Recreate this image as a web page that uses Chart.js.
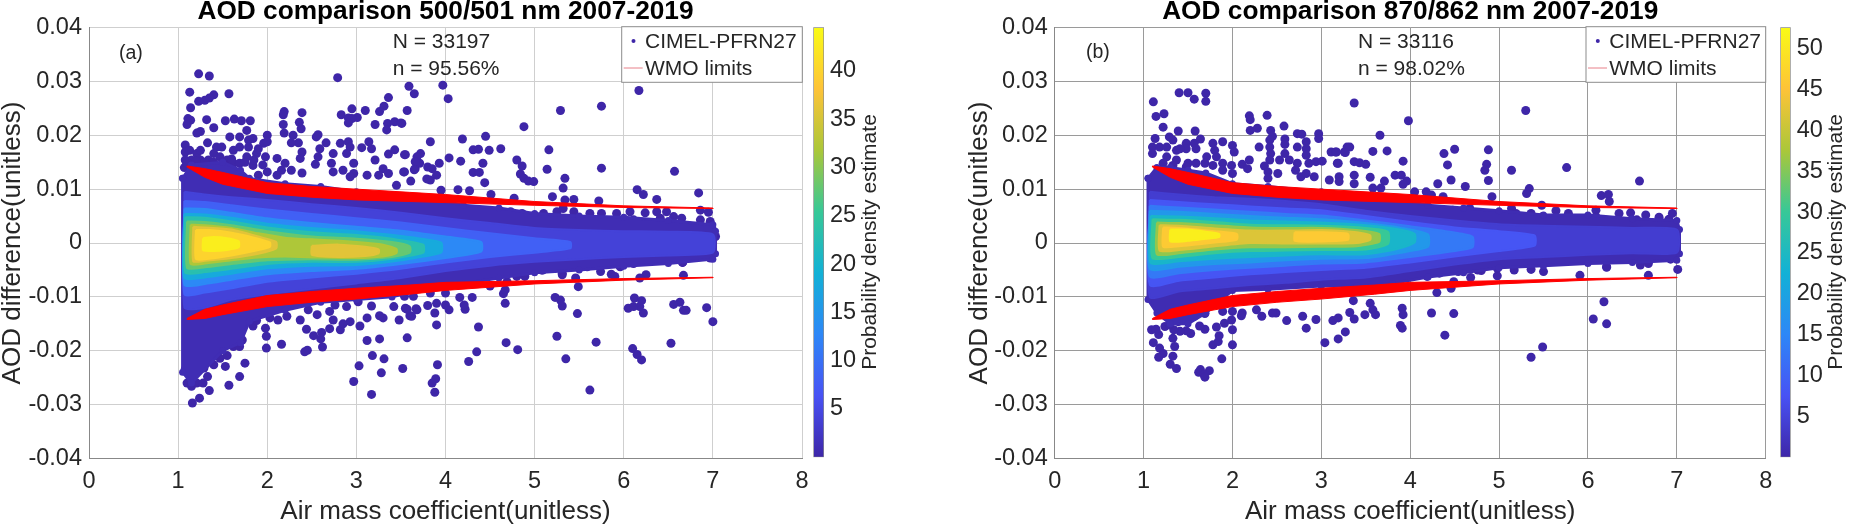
<!DOCTYPE html>
<html>
<head>
<meta charset="utf-8">
<title>AOD comparison</title>
<style>
html,body{margin:0;padding:0;background:#fff;}
canvas{position:absolute;left:0;top:0;}
</style>
<script src="https://cdn.jsdelivr.net/npm/chart.js@4/dist/chart.umd.js"></script>
</head>
<body>
<canvas id="panelA" width="1856" height="528"></canvas>
<canvas id="barA" width="1856" height="528"></canvas>
<canvas id="panelB" width="1856" height="528"></canvas>
<canvas id="barB" width="1856" height="528"></canvas>
<script>
// all AOD differences below are in units of 0.001
const xTicks = [0,1,2,3,4,5,6,7,8];
const yTicks = [-0.04,-0.03,-0.02,-0.01,0,0.01,0.02,0.03,0.04];
const barTicksA = [5,10,15,20,25,30,35,40];
const barTicksB = [5,10,15,20,25,30,35,40,45,50];
const barMaxA = 44.5;
const barMaxB = 52.6;

// WMO limits, drawn as the wedge the picture shows
const wmoX = [1.1,1.3,1.5,2,2.5,3,3.6,4,5,6,7];
const wmoUpTop = [14.3,13.8,13.1,11.2,10.5,10,9.4,9,7.7,6.9,6.5];
const wmoUpBot = [14.1,12.2,10.9,9.2,8.5,8,7.7,7.5,7,6.6,6.4];
const wmoLowTop = [-14,-12.3,-11.5,-9.75,-9,-8.4,-7.8,-7.3,-7,-6.6,-6.35];
const wmoLowBot = [-14.2,-14,-13.3,-11.8,-11,-10.4,-9.5,-8.8,-7.6,-6.9,-6.45];

// density bands panel a: [level, x, top, bottom], outer first
const bandsA = [
 [1,[1.05,1.15,1.5,1.7,1.8,2.2,2.6,3,3.4,3.8,4.2,4.6,5,5.5,6,6.5,7,7.03],
  [12,14.5,15,13.5,12,11,10.5,9.5,9,8.5,7,6.5,5.5,5,4.8,4.2,3.4,2.2],
  [-24,-26,-20,-18.5,-14.5,-12.5,-11,-10.5,-10,-8.5,-7.5,-6.5,-5.5,-5,-4.3,-3.8,-3,-2]],
 [4,[1.07,1.3,1.6,2,2.5,3,3.5,4,4.5,5,5.5,6,6.5,7],
  [9.5,9,8.5,8,7.2,6.5,5.6,4.6,3.7,2.8,2.4,2.2,2.1,1.6],
  [-12,-12,-10.5,-9.5,-8.5,-7.5,-6.5,-5.2,-4.2,-3.5,-3,-2.6,-2.3,-1.8]],
 [8,[1.07,1.3,1.6,2,2.5,3,3.5,4,4.5,5,5.4],
  [7.8,7.6,7,6.2,5.4,4.6,3.8,2.8,1.8,.9,.2],
  [-9.5,-9.2,-8.4,-7.2,-6.4,-5.7,-4.8,-3.6,-2.6,-1.8,-1]],
 [13,[1.07,1.3,1.6,2,2.5,3,3.5,4,4.4],
  [6.4,6.3,5.6,4.6,3.7,3,2.3,1.2,.2],
  [-7.8,-7.6,-6.8,-5.8,-5.2,-4.8,-3.9,-2.8,-1.6]],
 [18,[1.07,1.3,1.6,2,2.5,3,3.5,3.95],
  [5.4,5.3,4.7,3.6,2.8,2.2,1.3,.1],
  [-6.5,-6.4,-5.7,-4.7,-4.2,-4.1,-3.2,-1.8]],
 [23,[1.08,1.3,1.6,2,2.5,3,3.4,3.75],
  [4.8,4.7,4,2.9,2,1.5,.8,-.3],
  [-5.5,-5.4,-4.8,-3.9,-3.5,-3.5,-2.9,-1.8]],
 [28,[1.1,1.3,1.6,2,2.5,3,3.4,3.6],
  [4,3.9,3.3,2.2,1.2,.8,.2,-.6],
  [-4.6,-4.5,-3.9,-3.2,-3,-3.1,-2.6,-1.8]],
 [32,[1.14,1.3,1.6,1.9,2.2,2.6,3,3.3,3.45],
  [3.4,3.3,2.8,1.8,1,.6,.2,-.3,-1.1],
  [-3.9,-3.8,-3.2,-2.7,-2.5,-2.7,-2.8,-2.5,-1.9]],
 [36,[1.17,1.3,1.6,1.9,2.1],
  [3,2.9,2.5,1.2,.2],
  [-3.4,-3.3,-2.8,-2,-1]],
 [36,[2.5,2.8,3.1,3.25],
  [-.5,-.3,-.7,-1.2],
  [-2.2,-2.6,-2.4,-1.9]],
 [40,[1.2,1.35,1.6,1.85,2.03],
  [2.4,2.4,1.9,1,.1],
  [-3,-2.9,-2.3,-1.5,-.7]],
 [43,[1.28,1.4,1.55,1.68],
  [.9,1.1,.9,.3],
  [-1.3,-1.5,-1.3,-.8]]
];

const bandsB = [
 [1,[1.05,1.15,1.3,1.5,1.7,2,2.4,3,3.4,3.8,4.2,4.6,5,5.5,6,6.5,7,7.03],
  [12,14,14,13.5,13,11,10.5,9.5,9,8.5,7,6.5,6,5.2,5.2,4.5,4.2,2.5],
  [-10.5,-13,-15,-15,-13,-8.8,-8.6,-8,-8,-7.5,-6.3,-5.5,-4.6,-4.2,-3.8,-3.6,-3.2,-2]],
 [4,[1.07,1.4,1.8,2.2,2.6,3,3.5,4,4.5,5,5.5,6,6.5,7],
  [9.5,9,8.5,8.2,7.8,7.2,6,5,4.2,3.5,3.2,3,2.8,2.5],
  [-10,-9,-8.4,-7.8,-7.4,-6.8,-6.4,-5.2,-4,-3,-2.6,-2.2,-1.9,-1.8]],
 [8,[1.07,1.4,1.8,2.2,2.6,3,3.5,4,4.5,5,5.4],
  [8,7.6,7.2,6.8,6.4,6.1,5,3.9,2.9,2.2,1.4],
  [-7.8,-7,-6.4,-5.8,-5.4,-5,-4.6,-3.6,-2.5,-1.5,-.5]],
 [13,[1.07,1.4,1.8,2.2,2.6,3,3.5,4,4.4,4.7],
  [6.9,6.6,6.2,5.8,5.4,5.1,4.2,3.1,2.2,1.2],
  [-6.2,-5.6,-5,-4.6,-4.2,-3.8,-3.6,-2.6,-1.7,-.8]],
 [18,[1.07,1.4,1.8,2.2,2.6,3,3.5,3.9,4.2],
  [6,5.8,5.4,5,4.7,4.4,3.7,2.8,1.6],
  [-4.8,-4.4,-3.9,-3.6,-3.2,-2.9,-2.8,-1.8,-.7]],
 [24,[1.08,1.4,1.8,2.2,2.6,3,3.5,3.85,4.05],
  [5,4.9,4.6,4.2,4,3.8,3.3,2.6,1.7],
  [-3.7,-3.4,-2.9,-2.6,-2.3,-2.1,-2.1,-1.1,.1]],
 [30,[1.1,1.4,1.8,2.2,2.6,3,3.5,3.75],
  [4.4,4.3,3.9,3.4,3.3,3.2,2.8,2.1],
  [-2.8,-2.6,-1.9,-1.5,-1.4,-1.3,-1.2,-.2]],
 [36,[1.15,1.4,1.8,2.2,2.6,3,3.4,3.65],
  [3.8,3.7,3.3,2.9,2.8,2.8,2.4,1.7],
  [-2.1,-1.9,-1.2,-.8,-.8,-.7,-.6,.2]],
 [42,[1.18,1.4,1.8,2.2,2.6,3,3.4,3.55],
  [3.3,3.2,2.7,2.3,2.3,2.4,2,1.4],
  [-1.4,-1.3,-.6,0,-.1,-.1,0,.6]],
 [46,[1.22,1.4,1.8,2.05],
  [2.9,2.8,2.2,1.7],
  [-.7,-.6,.1,.6]],
 [46,[2.7,3,3.3],
  [2,2,1.7],
  [.4,.3,.6]],
 [51,[1.3,1.5,1.7,1.85],
  [2.5,2.5,2.1,1.7],
  [.3,.4,.8,1.1]]
];

// single low density points outside the cloud, [air mass, difference]
const pointsA = [
[1.23,31.4],[1.35,31],[1.13,28],[1.57,27.7],[1.4,27.5],[1.35,26.9],[1.3,26.5],[1.23,26.3],[1.14,25.1],[2.79,30.7],
[3.59,29.1],[3.65,27.7],[3.36,27],[3.31,25.4],[3.26,24.4],[3.57,24.6],[3.1,24.6],[2.95,24.9],[2.39,24.2],[2.19,24.4],
[2.18,23.8],[2.83,23.8],[3.01,23.3],[2.91,23.2],[2.95,23.1],[2.91,22.3],[1.53,22.7],[1.63,23],[1.71,22.7],[1.81,22.7],
[1.32,22.9],[1.11,23.1],[1.14,22.8],[1.1,22],[1.4,21.4],[1.25,20.7],[1.21,20.4],[2.36,22.4],[2.18,22],[2.38,21.2],
[2.19,20.4],[3.21,22],[3.35,22.2],[3.43,22.5],[3.5,22.3],[3.34,21],
[1.08,18.2],[1.33,18.6],[1.08,16.9],[1.13,17.2],[1.21,16.6],[1.25,17.2],[1.08,15.4],[1.15,15.4],[1.25,15.4],[1.34,15.4],
[1.43,17.8],[1.49,17.8],[1.4,16.6],[1.47,16],[1.55,15.4],[1.62,17.2],[1.58,19.7],[1.69,19.7],[1.77,20.9],[1.79,19.1],
[1.84,19.4],[1.69,17.8],[1.79,17.8],[1.88,16.6],[1.77,16],[1.96,18.5],[2,20],[2,18.8],[1.9,17.5],[1.98,16],
[1.84,14.4],[1.62,14.8],[1.69,14.8],[2,13.2],[1.9,12.6],[2.11,15.7],[2.2,14.8],[2.16,13.5],[2.27,13.5],[2.11,12.6],
[2.39,13],[2.35,18.6],[2.27,18.6],[2.39,16.9],[2.37,15.7],[2.29,20],[2.54,14.6],[2.57,16],[2.59,17.5],[2.55,19.7],
[2.57,20.1],[2.66,18.6],[2.74,16.6],[2.72,14.8],[2.74,13.2],[2.82,18.5],[2.91,18.8],[2.93,17.8],[2.89,16.6],[2.97,14.8],
[2.85,13.5],[2.97,12.9],[3.06,17.7],[3.14,18.8],[3.17,17.5],[3.21,15.4],[3.12,12.6],[3.3,13.8],[3.36,16.5],[3.43,17.3],
[3.55,16.4],[3.36,12.9],[3.25,12.6],[3.54,13.2],[3.66,13.8],[3.71,14.8],[3.45,10.7],[2.93,12.3],
[3.97,29.3],[4.03,26.8],[3.51,22.2],[5.29,24.6],[5.75,25.4],[6.17,28.3],[4.88,21.6],[3.83,18.8],[4.19,19.3],[4.45,19.8],
[5.16,17.3],[4.31,17.3],[4.37,17.4],[4.49,17.2],[4.62,17.5],[3.54,16.4],[3.72,16.6],[3.68,16],[3.66,15.1],[4.04,15.8],
[4.17,15.2],[3.93,14.8],[4.42,14.8],[4.8,15.4],[4.86,14.3],[5.14,13.7],[5.75,13.9],[6.57,13.3],[4.31,13.1],[4.38,13.1],
[4.84,12.8],[4.88,12],[4.93,11.5],[4.99,11.4],[5.34,12],[5.32,10.2],[4.44,11.2],[3.53,13.2],[3.65,13.6],[3.8,14.1],
[3.85,13.8],[3.9,12.6],[3.83,11.7],[3.79,11.9],[3.61,11.5],[4.14,9.9],[4.27,9.7],[3.95,9.8],[6.15,9.9],[6.22,9],
[6.37,8.1],[6.84,9.3],[4.51,9],[5.2,8.6],[5.34,8],[5.44,8.1],[5.72,7.8],[4.77,8.3],[6.86,6.1],[6.95,5.7],
[6.24,5.6],[5.92,5.5],[6.48,5.8],[6.65,4.6],[6.99,2.7],
[1.16,-29.7],[1.24,-28.8],[1.35,-27.4],[1.57,-26.4],[1.69,-24.8],[1.75,-22.3],[1.53,-22.9],[2.97,-25.7],[3.03,-22.8],[3.17,-28.1],
[3.28,-24.1],[3.18,-20.9],[3.31,-21.5],[3.52,-23.3],[3.12,-18.1],[3.26,-17.8],[3.57,-17.6],[1.99,-19.5],[2.16,-18.8],[2.62,-19.3],
[2.45,-19.9],[2.42,-20.2],[1.99,-17.3],[2.44,-16],[2.52,-17.2],[2.6,-17.8],[2.61,-16.6],[2.7,-15.9],[2.82,-16.1],[2.93,-14.6],
[3.04,-15.4],[2.85,-15],[1.98,-15.8],[1.84,-15.4],[1.88,-14.4],[2.03,-13.9],[3.3,-13.9],[3.26,-13.5],[3.17,-11.7],[3.48,-14.3],
[3.55,-12.1],[3.6,-13.5],[3.68,-12.4],[3.42,-11.8],[3.12,-13.9],[2.74,-14.3],[2.7,-12.7],[2.56,-13.3],[2.37,-14.3],[2.22,-13.6],
[2.12,-14.3],[2.76,-11.5],[2.46,-12.4],[3.02,-10.9],[2.89,-11.8],[1.1,-26],[1.15,-26.6],[1.21,-26],[1.28,-26],[1.33,-24.8],
[1.29,-23.2],[1.4,-22.6],[1.47,-21.4],[1.55,-20.9],[1.62,-19.2],[1.69,-19.2],[1.72,-18],[1.08,-23.4],
[3.9,-15.2],[4.37,-15.6],[4.68,-18.5],[4.81,-19.8],[4.35,-20.2],[4.26,-22],[3.91,-22.6],[3.89,-25.2],[3.85,-26],[3.88,-27.7],
[5.25,-17.3],[5.69,-18.4],[5.35,-21.5],[5.62,-27.3],[6.1,-19.6],[6.15,-20.7],[6.2,-21.7],[6.53,-18.6],[7,-14.6],[6.93,-12],
[6.67,-12.5],[6.7,-12.5],[6.63,-11],[6.56,-11.4],[6.22,-13],[6.18,-11.8],[6.12,-10.2],[6.2,-10.7],[6.05,-12.1],[6.11,-11.8],
[5.48,-13.1],[5.31,-11.7],[5.29,-10.6],[5.23,-10.1],[5.49,-8.1],[5.46,-6.5],[6.67,-6],[6.66,-3.6],[6.25,-5.9],[6.18,-6.5],
[5.86,-5.8],[5.9,-6.2],[5.31,-5.9],[5.09,-5],[4.69,-7.2],[4.67,-11.2],[4.65,-9.4],[4.67,-8.7],[4.22,-12.3],[4.21,-11.5],
[4.16,-10.1],[4.3,-10.1],[4.04,-12.4],[3.88,-13],[3.8,-11.6],[4,-9.3],[4,-11.5],[3.9,-11.2],[3.67,-12.2],[3.57,-12.3],
[3.62,-13.6],[3.64,-9.9],[3.54,-9.9],[3.83,-9.3],[4.2,-6.9],[4.35,-5.9],[4.5,-8],[4.89,-6.2]
];

// lumps along the edge of the cloud
const fringeA = [
[1.07,14],[1.1,14.8],[1.2,15.2],[1.3,15],[1.4,15],[1.5,15],[1.6,15.6],[1.75,15],[1.85,15.4],[1.95,14.5],
[3.87,6.4],[4.2,6.1],[4.43,5.5],[4.58,4.9],[4.73,5.8],[4.86,5.5],[5,4.3],[5.1,5.5],[5.25,5.8],[5.32,6.4],
[5.44,5.8],[5.51,4.3],[5.62,5.5],[5.75,5.5],[6.07,5.8],[6.11,4.3],[6.37,5.8],[6.41,4.6],[6.56,4.9],[6.78,3],
[6.86,4.3],[6.97,4],[7.03,1.2],
[6.66,-3.6],[6.37,-2.8],[6.11,-3.8],[5.96,-4.4],[5.74,-5.3],[5.59,-4.4],[5.31,-5.6],[5.08,-5],[4.8,-6.2],[4.54,-5.6],
[4.24,-5.3],[6.86,-2.5],[6.97,-2.8]
];

const fringeB = [
[4.33,5.5],[4.48,6.1],[4.67,6.4],[4.86,5.2],[5,4.6],[5.19,5.5],[5.36,5.5],[5.49,4.9],[5.64,4.3],[5.91,4.3],
[6.09,4.9],[6.32,3.6],[6.55,4.3],[6.73,3],[4.03,6.1],[4.18,6.4],
[5.76,-2.8],[6.21,-4.4],[6.47,-2.5],[5.49,-3.8],[5.19,-3.1],[4.97,-3.8],[4.76,-5],[4.52,-4.4],[4.33,-5.6],[5.98,-2.5],
[6.85,-2.5]
];

const pointsB = [
[1.11,26.2],[1.14,23.5],[1.23,24],[1.4,27.9],[1.5,27.9],[1.57,26.7],[1.7,27.8],[1.7,26.3],[1.22,21.5],[1.39,20.8],
[1.58,20.8],[2.19,23.6],[2.2,22.9],[2.39,23.7],[2.2,20.9],[2.28,21.3],[2.43,20.9],[2.58,21.7],[2.73,20.3],[2.78,20.2],
[2.97,20.3],[2.97,19.4],[2.83,18.8],[2.73,17.8],[2.83,17.5],[2.83,16.3],[2.45,19.8],[2.42,19.1],[2.59,19.3],[2.59,18.3],
[2.3,17.8],[2.42,17.8],[2.43,16.6],[2.59,16.6],[2.53,15.4],[2.64,15.4],[2.73,14.8],[2.42,15.4],[2.36,14.3],[2.19,15.4],
[2.11,14.6],[2.17,13.8],[2.4,13.2],[2.51,12.9],[2.4,12],[2.71,13.5],[2.77,12.3],[2.86,14.8],[2.94,15.1],[3.01,15.2],
[2.83,12.9],[2.92,12.3],[3.09,11.7],[3.18,14.8],[3.11,16.9],[3.16,16.9],[3.26,16.9],[3.29,17.8],
[1.13,19.4],[1.1,17.8],[1.1,16.6],[1.18,17.8],[1.29,19.7],[1.33,19.1],[1.26,17.8],[1.37,17.2],[1.26,16],[1.37,15.4],
[1.33,14.4],[1.48,18.5],[1.48,17.5],[1.41,17.5],[1.57,18.5],[1.64,19.3],[1.59,17.5],[1.78,18.5],[1.89,18.8],[2,18.1],
[1.8,17.2],[2.02,16.9],[1.82,16],[1.71,16],[1.5,14.8],[1.59,14.8],[1.69,14.8],[1.78,14.4],[1.89,14.8],[1.99,14.4],
[2,12.9],[1.89,13.5],[1.48,14.1],[1.22,14.8],
[3.37,26],[3.98,22.7],[3.66,20],[5.3,24.6],[3.32,17.8],[3.58,17],[3.74,17.1],[4.38,16.6],[4.5,17.4],[4.88,17.3],
[3.92,15.2],[3.27,16.8],[3.17,16.9],[3.37,15.1],[3.43,14.9],[3.5,14.6],[3.19,14.8],[4.42,14.5],[4.86,14.6],[4.84,13.5],
[5.14,13.5],[5.76,14],[6.58,11.5],[3.55,12.2],[3.83,12.6],[3.9,12.6],[3.96,11.5],[3.92,10.9],[4.46,11.7],[4.88,11.6],
[4.31,11],[4.62,10.5],[3.71,11.5],[5.34,10.1],[5.31,9.2],[6.15,8.8],[6.23,9],[6.24,7.7],[3.37,12.6],[3.37,11],
[3.2,12.3],[3.2,11.4],[3.58,10.2],[3.67,10.2],[4.05,9.5],[4.18,9.5],[4.37,8.6],[4.92,8.6],[4.24,8.9],
[6.35,5.5],[6.48,5.6],[6.65,5.2],[6.8,4.8],[6.95,5.5],[6.91,4.4],[5.64,6],[6.09,6.1],[5.78,5.5],[5.14,6.4],
[5.48,7],[7,2.4],
[7.01,-4.9],[6.68,-6],[6.93,-3],[6.68,-3.8],[6.59,-4.1],[5.91,-6],[5.5,-5.3],[5.17,-5],[6.21,-4.5],[5.36,-4.9],
[4.98,-6.1],[4.98,-4.7],[4.68,-6.4],[4.8,-5.1],[4.54,-5.3],[4.19,-6.2],[4.3,-9.2],[4.46,-8.4],[4.49,-7.2],[6.18,-10.9],
[6.06,-14.1],[6.21,-15],[5.49,-19.3],[5.36,-21.2],[4.49,-13.1],[4.24,-13],[4.39,-17.1],[3.91,-12.1],[3.92,-13.3],[3.89,-15.3],
[3.91,-15.8],[3.36,-10.7],[3.55,-11.2],[3.32,-12.9],[3.37,-14.1],[3.49,-13.3],[3.58,-12.4],[3.61,-13.3],[3.27,-16.5],[3.19,-17.8],
[3.13,-14.4],[3.19,-13.9],
[3.04,-18.5],[2.94,-14.2],[2.83,-15.8],[2.79,-13.6],[2.61,-14.4],[2.49,-13],[2.45,-13],[2.33,-13.6],[2.27,-12.4],[2.11,-13],
[2.1,-13.5],[2,-16.1],[2,-18.9],[1.78,-18.9],[1.84,-18.3],[1.85,-17.2],[1.82,-15.6],[1.88,-21.5],[1.91,-14.9],[1.99,-14.3],
[1.89,-12.7],[2,-12.7],[1.69,-13.1],[1.69,-16],[1.63,-15.4],[1.57,-13.6],[1.53,-16.8],[1.48,-16.3],[1.41,-16.4],[1.64,-23.5],
[1.74,-23.7],[1.62,-24],[1.68,-24.4],[1.69,-24.9],[1.37,-23.3],[1.3,-22.5],[1.33,-21],[1.35,-19.2],[1.33,-17.7],[1.34,-16.1],
[1.18,-19.5],[1.22,-20.5],[1.17,-21.2],[1.11,-18.5],[1.09,-16.1],[1.17,-17],[1.14,-16],[1.24,-15.5],[1.29,-15.2],[1.39,-14.6]
];

const parula = ['#3e26a8','#4852f4','#2d87f7','#12b1d6','#37c897','#abc739','#fec338','#f9fb15'];

function hexRgb(h){ return [1,3,5].map(i=>parseInt(h.substr(i,2),16)); }

function parulaAt(f){
  f = Math.max(0,Math.min(1,f))*(parula.length-1);
  const i = Math.min(Math.floor(f),parula.length-2);
  const a = hexRgb(parula[i]), b = hexRgb(parula[i+1]), t = f-i;
  return `rgb(${a.map((v,k)=>Math.round(v+(b[k]-v)*t)).join(',')})`;
}

// closed outline: along the top, back along the bottom
function outline(x,top,bot){
  const pts = x.map((v,i)=>({x:v,y:top[i]/1000}));
  for (let i=x.length-1;i>=0;i--) pts.push({x:x[i],y:bot[i]/1000});
  pts.push(pts[0]);
  return pts;
}

function buildDatasets(bands,points,maxV){
  const sets = [];
  sets.push({data:outline(wmoX,wmoUpTop,wmoUpBot),showLine:true,fill:'shape',backgroundColor:'#ff0000',borderColor:'#ff0000',borderWidth:1,pointRadius:0,order:1});
  sets.push({data:outline(wmoX,wmoLowTop,wmoLowBot),showLine:true,fill:'shape',backgroundColor:'#ff0000',borderColor:'#ff0000',borderWidth:1,pointRadius:0,order:2});
  bands.forEach((b,i)=>{
    const c = parulaAt(b[0]/maxV);
    sets.push({data:outline(b[1],b[2],b[3]),showLine:true,fill:'shape',backgroundColor:c,borderColor:c,borderWidth:i?2:3,tension:i?0.2:0,
      pointRadius:i?0:3.5,pointBackgroundColor:c,pointBorderWidth:0,order:50-i});
  });
  sets.push({data:points.map(p=>({x:p[0],y:p[1]/1000})),showLine:false,pointRadius:4.5,pointBackgroundColor:parula[0],pointBorderWidth:0,order:100});
  return sets;
}

// legend box, notes and rotated colour bar title
const notesPlugin = {
  id:'notes',
  afterDraw(chart,args,opts){
    const ctx = chart.ctx;
    ctx.save();
    if (opts.legend){
      const l = opts.legend;
      ctx.fillStyle = '#fff';
      ctx.strokeStyle = '#8c8c8c';
      ctx.lineWidth = 1;
      ctx.fillRect(l.left,26.7,l.right-l.left,55.6);
      ctx.strokeRect(l.left,26.7,l.right-l.left,55.6);
      ctx.fillStyle = parula[0];
      ctx.beginPath();
      ctx.arc(l.left+11.8,41,2,0,Math.PI*2);
      ctx.fill();
      ctx.strokeStyle = '#e8808a';
      ctx.beginPath();
      ctx.moveTo(l.left+2,68);
      ctx.lineTo(l.left+21,68);
      ctx.stroke();
    }
    (opts.items||[]).forEach(t=>{
      ctx.save();
      ctx.translate(t.x,t.y);
      if (t.rot) ctx.rotate(t.rot);
      ctx.font = `${t.size}px "Liberation Sans"`;
      ctx.fillStyle = '#262626';
      ctx.textBaseline = 'middle';
      ctx.textAlign = t.align||'left';
      ctx.fillText(t.text,0,0);
      ctx.restore();
    });
    ctx.restore();
  }
};

function drawPanel(id,cfg){
  new Chart(document.getElementById(id),{
    type:'scatter',
    data:{datasets:buildDatasets(cfg.bands,cfg.points.concat(cfg.fringe),cfg.maxV)},
    options:{
      responsive:false,animation:false,devicePixelRatio:1,
      layout:{padding:{left:cfg.padL,right:1856-cfg.right,top:0,bottom:0}},
      plugins:{
        legend:{display:false},
        tooltip:{enabled:false},
        title:{display:true,text:cfg.title,fullSize:false,color:'#000',
          font:{family:'Liberation Sans',size:26.25,weight:'bold',lineHeight:0.9},padding:{top:0,bottom:3.9}},
        notes:{legend:cfg.legend,items:cfg.items}
      },
      scales:{
        x:{type:'linear',min:0,max:8,
          grid:{color:cfg.grid,drawTicks:false},border:{color:'#888'},
          afterBuildTicks(s){ s.ticks = xTicks.map(v=>({value:v})); },
          afterFit(s){ s.height = 69.5; },
          ticks:{color:'#262626',padding:9,maxRotation:0,font:{family:'Liberation Sans',size:23.5}},
          title:{display:true,text:'Air mass coefficient(unitless)',color:'#262626',padding:{top:0,bottom:3},
            font:{family:'Liberation Sans',size:26,lineHeight:1}}},
        y:{type:'linear',min:-0.04,max:0.04,
          grid:{color:cfg.grid,drawTicks:false},border:{color:'#888'},
          afterBuildTicks(s){ s.ticks = yTicks.map(v=>({value:v})); },
          afterFit(s){ s.width = cfg.left-cfg.padL; },
          ticks:{color:'#262626',padding:7,callback:v=>v===0?'0':v.toFixed(2),font:{family:'Liberation Sans',size:23.5}},
          title:{display:true,text:'AOD difference(unitless)',color:'#262626',padding:{top:0,bottom:0},
            font:{family:'Liberation Sans',size:26,lineHeight:1}}}
      }
    },
    plugins:[notesPlugin]
  });
}

function drawBar(id,cfg){
  new Chart(document.getElementById(id),{
    type:'bar',
    data:{labels:['density'],datasets:[{data:[[0,cfg.maxV]],barPercentage:1,categoryPercentage:1,
      borderColor:'#8c8c8c',borderWidth:1,borderSkipped:false,
      backgroundColor(c){
        const a = c.chart.chartArea;
        if (!a) return parula[0];
        const g = c.chart.ctx.createLinearGradient(0,a.bottom,0,a.top);
        parula.forEach((h,i)=>g.addColorStop(i/(parula.length-1),h));
        return g;
      }}]},
    options:{
      responsive:false,animation:false,devicePixelRatio:1,
      layout:{padding:{left:cfg.left,right:1856-cfg.right-40,top:27.3,bottom:70.7}},
      plugins:{legend:{display:false},tooltip:{enabled:false},
        notes:{items:[{text:'Probability density estimate',x:cfg.titleX,y:242,size:21,rot:-Math.PI/2,align:'center'}]}},
      scales:{
        x:{display:false},
        y:{position:'right',min:0,max:cfg.maxV,grid:{display:false,drawTicks:false},border:{display:false},
          afterBuildTicks(s){ s.ticks = cfg.ticks.map(v=>({value:v})); },
          afterFit(s){ s.width = 40; },
          ticks:{color:'#262626',padding:6,font:{family:'Liberation Sans',size:23.5}}}
      }
    },
    plugins:[notesPlugin]
  });
}

drawPanel('panelA',{bands:bandsA,points:pointsA,fringe:fringeA,maxV:barMaxA,padL:0,left:89,right:802,grid:'#cfcfcf',
  title:'AOD comparison 500/501 nm 2007-2019',legend:{left:621.7,right:802.3},
  items:[
    {text:'(a)',x:119,y:54,size:19.5},
    {text:'N = 33197',x:392.7,y:42,size:21},
    {text:'n = 95.56%',x:392.7,y:69,size:21},
    {text:'CIMEL-PFRN27',x:645,y:42,size:21},
    {text:'WMO limits',x:645,y:69,size:21}
  ]});
drawBar('barA',{left:813.3,right:824,maxV:barMaxA,ticks:barTicksA,titleX:870});

drawPanel('panelB',{bands:bandsB,points:pointsB,fringe:fringeB,maxV:barMaxB,padL:967,left:1054.7,right:1765.7,grid:'#9a9a9a',
  title:'AOD comparison 870/862 nm 2007-2019',legend:{left:1586,right:1765.7},
  items:[
    {text:'(b)',x:1086,y:52.7,size:19.5},
    {text:'N = 33116',x:1358,y:42,size:21},
    {text:'n = 98.02%',x:1358,y:69,size:21},
    {text:'CIMEL-PFRN27',x:1609.3,y:42,size:21},
    {text:'WMO limits',x:1609.3,y:69,size:21}
  ]});
drawBar('barB',{left:1780.3,right:1790.7,maxV:barMaxB,ticks:barTicksB,titleX:1836.7});
</script>
</body>
</html>
